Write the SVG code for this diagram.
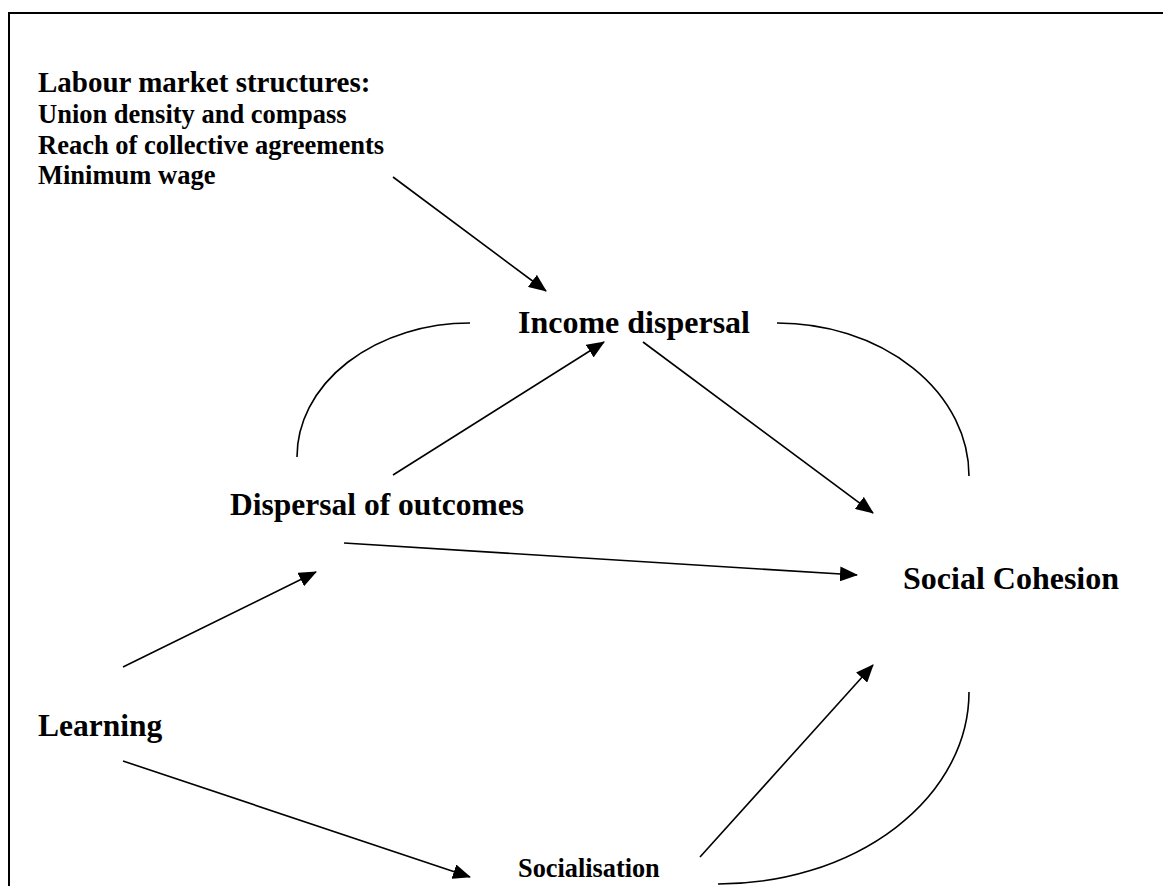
<svg xmlns="http://www.w3.org/2000/svg" width="1163" height="886" viewBox="0 0 1163 886">
<style>
text{font-family:"Liberation Serif","Times New Roman",serif;font-weight:bold;fill:#000}
.t{font-size:29px}
.s{font-size:26.5px}
.n{font-size:32px}
.c{fill:none;stroke:#000;stroke-width:1.6}
.a{fill:none;stroke:#000;stroke-width:1.6;marker-end:url(#ah)}
</style>
<defs>
<marker id="ah" markerUnits="userSpaceOnUse" markerWidth="18" markerHeight="15" refX="17" refY="7.5" orient="auto">
<path d="M0,0 L18,7.5 L0,15 z" fill="#000"/>
</marker>
</defs>
<rect width="1163" height="886" fill="#fff"/>
<path d="M9,886 L9,13 L1163,13" fill="none" stroke="#000" stroke-width="2"/>
<g id="labour">
<text class="t" x="38" y="92">Labour market structures:</text>
<text class="s" x="38" y="123">Union density and compass</text>
<text class="s" x="38" y="154">Reach of collective agreements</text>
<text class="s" x="38" y="184">Minimum wage</text>
</g>
<g id="income"><text class="n" x="518" y="333">Income dispersal</text></g>
<g id="dispersal"><text class="n" x="230" y="515" style="font-size:31.5px">Dispersal of outcomes</text></g>
<g id="cohesion"><text class="n" x="903" y="589">Social Cohesion</text></g>
<g id="learning"><text class="n" x="38" y="736" style="font-size:31.5px">Learning</text></g>
<g id="socialisation"><text class="s" x="518" y="877" style="font-size:26.3px">Socialisation</text></g>
<g id="connectors">
<path class="c" d="M470,323 A173,134 0 0 0 297,457"/>
<path class="c" d="M777,323 A192,153 0 0 1 969,476"/>
<path class="c" d="M969,692 A251,192 0 0 1 718,884"/>
<line class="a" x1="393" y1="177" x2="546" y2="291"/>
<line class="a" x1="393" y1="475" x2="604" y2="342"/>
<line class="a" x1="643" y1="342" x2="873" y2="513"/>
<line class="a" x1="344" y1="543" x2="857" y2="575"/>
<line class="a" x1="123" y1="667" x2="316" y2="572"/>
<line class="a" x1="123" y1="761" x2="470" y2="877"/>
<line class="a" x1="700" y1="857" x2="873" y2="665"/>
</g>
</svg>
